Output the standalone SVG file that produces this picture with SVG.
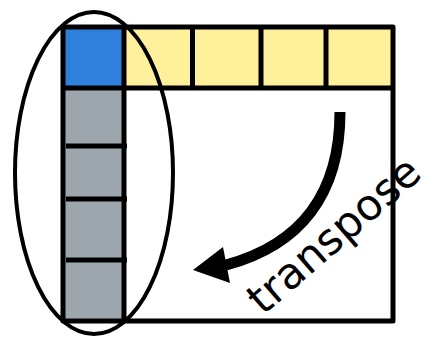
<svg xmlns="http://www.w3.org/2000/svg" width="422" height="339" viewBox="0 0 422 339">
<style>
.ln{stroke:#000;stroke-width:5;fill:none;stroke-linejoin:round}
.yl{fill:#FFF09C}
.lbl{font-family:"DejaVu Sans",sans-serif;font-size:43px;fill:#000}
</style>
<rect width="422" height="339" fill="#fff"/>
<g id="matrix">
<rect x="63" y="27" width="330" height="294" fill="#fff"/>
<rect id="cell-blue" x="63" y="27" width="61" height="61" fill="#2F7FDD"/>
<rect class="yl" x="124" y="27" width="68.5" height="61"/>
<rect class="yl" x="192.5" y="27" width="68.5" height="61"/>
<rect class="yl" x="261" y="27" width="65" height="61"/>
<rect class="yl" x="326" y="27" width="67" height="61"/>
<rect x="63" y="88" width="61" height="233" fill="#9DA6AC"/>
<path class="ln" d="M63 27H393V321H63Z"/>
<path class="ln" d="M63 88H393M124 27V321M192.5 27V88M261 27V88M326 27V88"/>
<path class="ln" d="M66 146H127M66 199H127M66 260H127"/>
</g>
<g id="ellipse">
<ellipse cx="94" cy="173" rx="79" ry="161" fill="none" stroke="#000" stroke-width="4"/>
</g>
<g id="connectors">
<path d="M340 112C340 195 300 245 226 265" fill="none" stroke="#000" stroke-width="11"/>
<polygon points="193,270 223,247 230,283" fill="#000"/>
</g>
<g id="label">
<text class="lbl" transform="translate(263,316) rotate(-41)">transpose</text>
</g>
</svg>
